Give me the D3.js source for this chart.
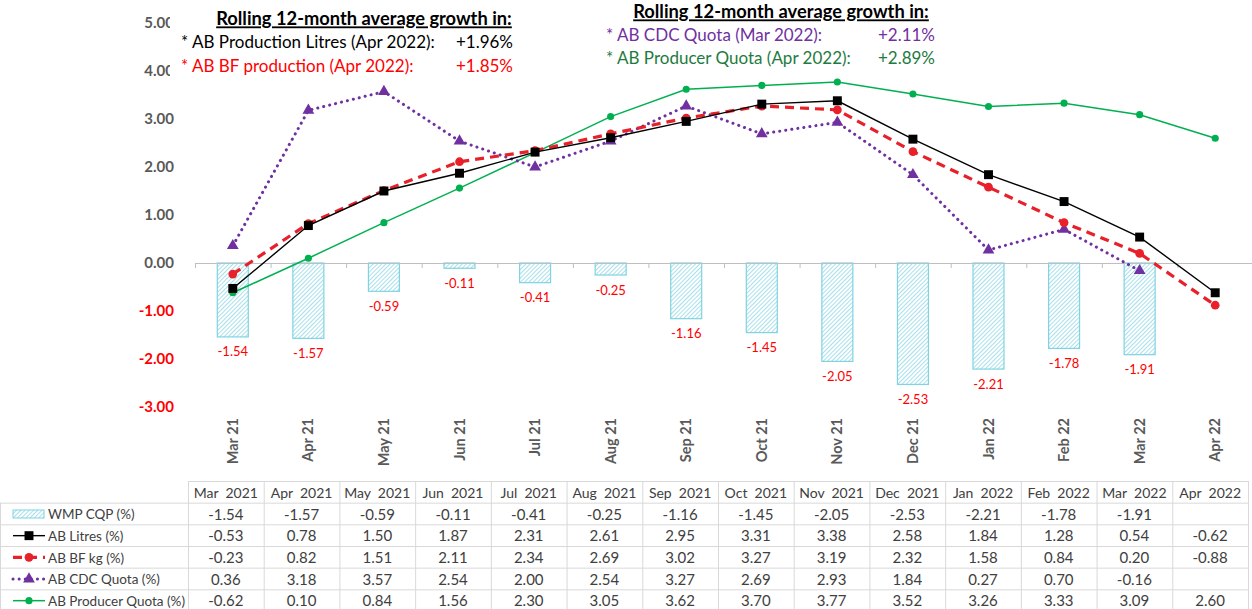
<!DOCTYPE html>
<html>
<head>
  <meta charset="utf-8" />
  <title>Rolling 12-month average growth</title>
  <script src="https://d3js.org/d3.v7.min.js"></script>
  <style>
    body { margin: 0; background: #fff; }
    svg { display: block; font-family: Lato, "Open Sans", sans-serif; }
    .pre { white-space: pre; }
  </style>
</head>
<body>
  <svg id="chart" width="1252" height="609"></svg>
  <script>
    // categories
    var months = ["Mar 21", "Apr 21", "May 21", "Jun 21", "Jul 21", "Aug 21", "Sep 21",
      "Oct 21", "Nov 21", "Dec 21", "Jan 22", "Feb 22", "Mar 22", "Apr 22"];
    var tableHeads = ["Mar  2021", "Apr  2021", "May  2021", "Jun  2021", "Jul  2021", "Aug  2021",
      "Sep  2021", "Oct  2021", "Nov  2021", "Dec  2021", "Jan  2022", "Feb  2022", "Mar  2022", "Apr  2022"];

    // series values (%)
    var wmpCqp = [-1.54, -1.57, -0.59, -0.11, -0.41, -0.25, -1.16, -1.45, -2.05, -2.53, -2.21, -1.78, -1.91, null];
    var abLitres = [-0.53, 0.78, 1.50, 1.87, 2.31, 2.61, 2.95, 3.31, 3.38, 2.58, 1.84, 1.28, 0.54, -0.62];
    var abBfKg = [-0.23, 0.82, 1.51, 2.11, 2.34, 2.69, 3.02, 3.27, 3.19, 2.32, 1.58, 0.84, 0.20, -0.88];
    var abCdc = [0.36, 3.18, 3.57, 2.54, 2.00, 2.54, 3.27, 2.69, 2.93, 1.84, 0.27, 0.70, -0.16, null];
    var abProducer = [-0.62, 0.10, 0.84, 1.56, 2.30, 3.05, 3.62, 3.70, 3.77, 3.52, 3.26, 3.33, 3.09, 2.60];

    var yTicks = [-3, -2, -1, 0, 1, 2, 3, 4, 5];

    var rowNames = ["WMP CQP (%)", "AB Litres (%)", "AB BF kg (%)", "AB CDC Quota (%)", "AB Producer Quota (%)"];

    var svg = d3.select("#chart");
    var grey = "#595959";
    var fmt = function (v) { return v.toFixed(2); };

    var x = d3.scaleBand().domain(months).range([195, 1253]).paddingInner(0.59).paddingOuter(0.295);
    var cx = function (i) { return x(months[i]) + x.bandwidth() / 2; };
    var y = d3.scaleLinear().domain([-3, 5]).range([407, 23]);

    // hatch pattern for the bars
    var defs = svg.append("defs");
    var pat = defs.append("pattern")
      .attr("id", "hatch")
      .attr("patternUnits", "userSpaceOnUse")
      .attr("width", 3).attr("height", 3)
      .attr("patternTransform", "rotate(45)");
    pat.append("rect").attr("width", 3).attr("height", 3).attr("fill", "#ffffff");
    pat.append("line").attr("x1", 0).attr("y1", 0).attr("x2", 0).attr("y2", 3)
      .attr("stroke", "#8fd8e6").attr("stroke-width", 1.6);

    // y axis labels
    var yAxis = svg.append("g")
      .attr("transform", "translate(176,0)")
      .call(d3.axisLeft(y).tickValues(yTicks).tickFormat(fmt).tickSize(0).tickPadding(2));
    yAxis.select(".domain").remove();
    yAxis.selectAll("text")
      .attr("font-family", "Lato, sans-serif")
      .attr("font-size", 15)
      .attr("font-weight", "bold")
      .attr("fill", function (d) { return d < 0 ? "#ff0000" : grey; });

    var barData = wmpCqp.map(function (v, i) { return { v: v, i: i }; }).filter(function (d) { return d.v !== null; });

    // bars
    svg.append("g").selectAll("rect")
      .data(barData)
      .enter().append("rect")
      .attr("x", function (d) { return x(months[d.i]); })
      .attr("y", function (d) { return Math.min(y(0), y(d.v)); })
      .attr("width", x.bandwidth())
      .attr("height", function (d) { return Math.abs(y(d.v) - y(0)); })
      .attr("fill", "url(#hatch)")
      .attr("stroke", "#7fd3e2")
      .attr("stroke-width", 1.2);

    // bar labels
    svg.append("g").selectAll("text")
      .data(barData)
      .enter().append("text")
      .attr("x", function (d) { return cx(d.i); })
      .attr("y", function (d) { return y(d.v) + 15; })
      .attr("dy", "0.35em")
      .attr("text-anchor", "middle")
      .attr("font-size", 13)
      .attr("fill", "#ff0000")
      .text(function (d) { return fmt(d.v); });

    // category axis at zero (ticks between categories)
    var xIdx = d3.scaleLinear().domain([0, months.length]).range([195, 1253]);
    var xAxis = svg.append("g")
      .attr("transform", "translate(0," + y(0) + ")")
      .call(d3.axisBottom(xIdx).ticks(months.length).tickFormat("").tickSize(5).tickSizeOuter(5));
    xAxis.selectAll("line, path").attr("stroke", "#bfbfbf");

    // rotated category labels
    svg.append("g").selectAll("text")
      .data(months)
      .enter().append("text")
      .attr("transform", function (d, i) { return "translate(" + cx(i) + ",418) rotate(-90)"; })
      .attr("dy", "0.35em")
      .attr("text-anchor", "end")
      .attr("font-size", 14.5)
      .attr("font-weight", "bold")
      .attr("fill", grey)
      .text(function (d) { return d; });

    // lines
    var series = [
      { vals: abProducer, color: "#00b050", width: 1.5, dash: null, cap: "butt", marker: "circle", size: 40 },
      { vals: abCdc, color: "#7030a0", width: 3, dash: "0.1,6", cap: "round", marker: "triangle", size: 60 },
      { vals: abBfKg, color: "#e8202a", width: 3.2, dash: "9,6", cap: "butt", marker: "circle", size: 60 },
      { vals: abLitres, color: "#000000", width: 1.4, dash: null, cap: "butt", marker: "square", size: 80 }
    ];
    var symbolType = { circle: d3.symbolCircle, triangle: d3.symbolTriangle, square: d3.symbolSquare };

    series.forEach(function (s) {
      var pts = s.vals.map(function (v, i) { return { v: v, i: i }; }).filter(function (d) { return d.v !== null; });
      var line = d3.line()
        .x(function (d) { return cx(d.i); })
        .y(function (d) { return y(d.v); });
      svg.append("path")
        .datum(pts)
        .attr("d", line)
        .attr("fill", "none")
        .attr("stroke", s.color)
        .attr("stroke-width", s.width)
        .attr("stroke-dasharray", s.dash)
        .attr("stroke-linecap", s.cap);
      svg.append("g").selectAll("path")
        .data(pts)
        .enter().append("path")
        .attr("transform", function (d) { return "translate(" + cx(d.i) + "," + y(d.v) + ")"; })
        .attr("d", d3.symbol().type(symbolType[s.marker]).size(s.size))
        .attr("fill", s.color);
    });

    // text boxes with rolling averages
    svg.append("rect").attr("x", 170).attr("y", 2).attr("width", 350).attr("height", 76).attr("fill", "#fff");
    svg.append("rect").attr("x", 600).attr("y", 0).attr("width", 340).attr("height", 70).attr("fill", "#fff");

    var notes = svg.append("g").attr("font-size", 17);
    notes.append("text").attr("x", 364).attr("y", 19).attr("dy", "0.35em").attr("text-anchor", "middle")
      .attr("font-size", 18.3)
      .attr("font-weight", "bold").attr("text-decoration", "underline").attr("fill", "#000")
      .text("Rolling 12-month average growth in:");
    notes.append("text").attr("x", 181).attr("y", 42).attr("dy", "0.35em").attr("fill", "#000")
      .text("* AB Production Litres (Apr 2022):");
    notes.append("text").attr("x", 513).attr("y", 42).attr("dy", "0.35em").attr("text-anchor", "end").attr("fill", "#000")
      .text("+1.96%");
    notes.append("text").attr("x", 181).attr("y", 66).attr("dy", "0.35em").attr("fill", "#ff0000")
      .text("* AB BF production (Apr 2022):");
    notes.append("text").attr("x", 513).attr("y", 66).attr("dy", "0.35em").attr("text-anchor", "end").attr("fill", "#ff0000")
      .text("+1.85%");

    notes.append("text").attr("x", 781).attr("y", 12).attr("dy", "0.35em").attr("text-anchor", "middle")
      .attr("font-size", 18.3)
      .attr("font-weight", "bold").attr("text-decoration", "underline").attr("fill", "#000")
      .text("Rolling 12-month average growth in:");
    notes.append("text").attr("x", 606).attr("y", 35).attr("dy", "0.35em").attr("fill", "#7030a0")
      .text("* AB CDC Quota (Mar 2022):");
    notes.append("text").attr("x", 935).attr("y", 35).attr("dy", "0.35em").attr("text-anchor", "end").attr("fill", "#7030a0")
      .text("+2.11%");
    notes.append("text").attr("x", 606).attr("y", 58).attr("dy", "0.35em").attr("fill", "#1e7b40")
      .text("* AB Producer Quota (Apr 2022):");
    notes.append("text").attr("x", 935).attr("y", 58).attr("dy", "0.35em").attr("text-anchor", "end").attr("fill", "#1e7b40")
      .text("+2.89%");

    // data table
    var col = d3.scaleBand().domain(months).range([188, 1248]);
    var row = d3.scaleBand().domain(["head"].concat(rowNames)).range([481, 611]);
    var tbl = svg.append("g");
    var border = "#d9d9d9";

    // horizontal rules
    tbl.selectAll("line.h")
      .data(["head"].concat(rowNames))
      .enter().append("line")
      .attr("x1", function (d) { return d === "head" ? 188 : 0; })
      .attr("x2", 1248)
      .attr("y1", function (d) { return row(d) + 0.5; })
      .attr("y2", function (d) { return row(d) + 0.5; })
      .attr("stroke", border);
    // vertical rules
    tbl.selectAll("line.v")
      .data(months.concat(["end"]))
      .enter().append("line")
      .attr("x1", function (d) { return (d === "end" ? 1248 : col(d)) + 0.5; })
      .attr("x2", function (d) { return (d === "end" ? 1248 : col(d)) + 0.5; })
      .attr("y1", 481)
      .attr("y2", 611)
      .attr("stroke", border);
    tbl.append("line").attr("x1", 0.5).attr("x2", 0.5).attr("y1", row(rowNames[0])).attr("y2", 611).attr("stroke", border);

    var cellText = "#404040";
    tbl.selectAll("text.head")
      .data(tableHeads)
      .enter().append("text")
      .attr("class", "pre")
      .attr("x", function (d, i) { return col(months[i]) + col.bandwidth() / 2; })
      .attr("y", row("head") + row.bandwidth() / 2 + 1)
      .attr("dy", "0.35em")
      .attr("text-anchor", "middle")
      .attr("font-size", 14)
      .attr("fill", cellText)
      .text(function (d) { return d; });

    var tableSeries = [wmpCqp, abLitres, abBfKg, abCdc, abProducer];
    tableSeries.forEach(function (vals, r) {
      var ry = row(rowNames[r]) + row.bandwidth() / 2 + 1;
      tbl.append("g").selectAll("text")
        .data(vals)
        .enter().append("text")
        .attr("x", function (d, i) { return col(months[i]) + col.bandwidth() / 2; })
        .attr("y", ry)
        .attr("dy", "0.35em")
        .attr("text-anchor", "middle")
        .attr("font-size", 15)
        .attr("fill", cellText)
        .text(function (d) { return d === null ? "" : fmt(d); });
      tbl.append("text")
        .attr("x", 48)
        .attr("y", ry)
        .attr("dy", "0.35em")
        .attr("font-size", 13.5)
        .attr("fill", cellText)
        .text(rowNames[r]);
    });

    // legend keys in the table
    var keyY = function (r) { return row(rowNames[r]) + row.bandwidth() / 2 + 0.5; };
    tbl.append("rect").attr("x", 13).attr("y", keyY(0) - 4).attr("width", 31).attr("height", 8)
      .attr("fill", "url(#hatch)").attr("stroke", "#7fd3e2");
    var keySeries = [series[3], series[2], series[1], series[0]];
    keySeries.forEach(function (s, k) {
      var ky = keyY(k + 1);
      tbl.append("line").attr("x1", 13).attr("x2", 45).attr("y1", ky).attr("y2", ky)
        .attr("stroke", s.color).attr("stroke-width", s.width)
        .attr("stroke-dasharray", s.dash)
        .attr("stroke-linecap", s.cap);
      tbl.append("path")
        .attr("transform", "translate(29," + ky + ")")
        .attr("d", d3.symbol().type(symbolType[s.marker]).size(s.size))
        .attr("fill", s.color);
    });
  </script>
</body>
</html>
